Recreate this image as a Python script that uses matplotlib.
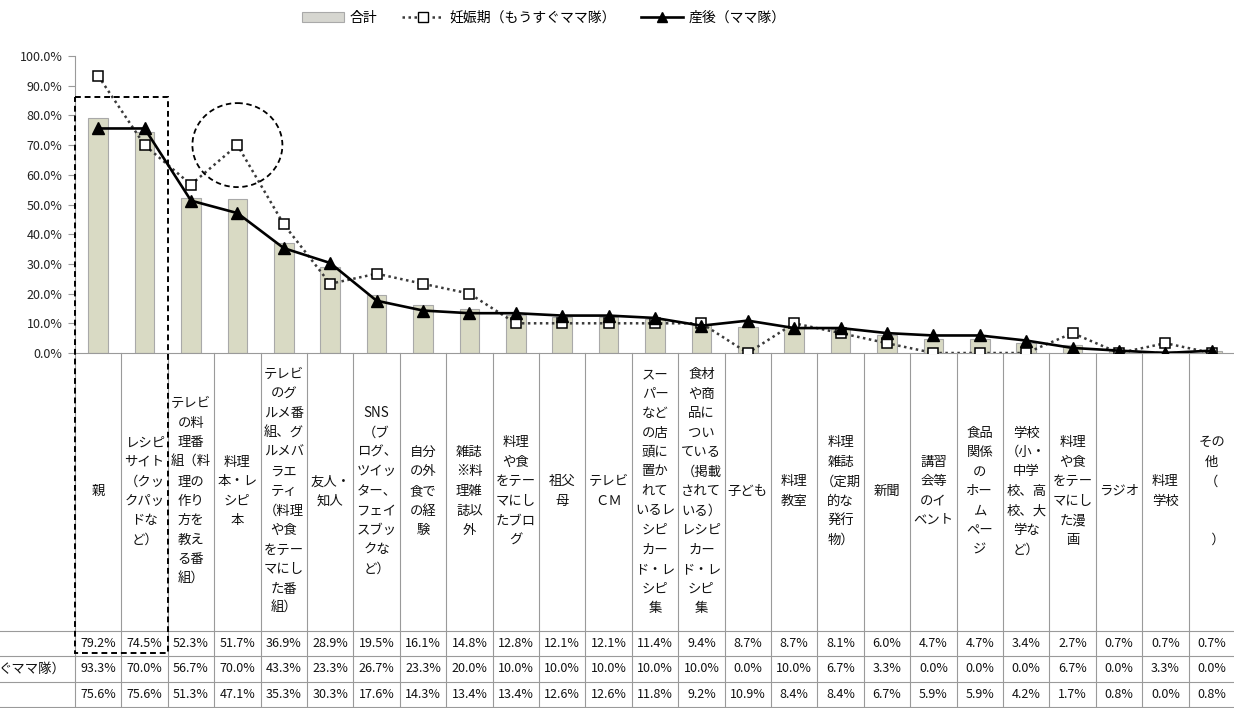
import matplotlib
matplotlib.use("Agg")
import matplotlib.pyplot as plt
from matplotlib.lines import Line2D
from matplotlib.patches import Ellipse, Rectangle, Patch
from matplotlib.transforms import blended_transform_factory

plt.rcParams["font.family"] = ["Noto Sans CJK JP", "DejaVu Sans"]

# category labels, already broken into the narrow column lines
categories = [
    "親",
    "レシピ\nサイト\n（クッ\nクパッ\nドな\nど）",
    "テレビ\nの料\n理番\n組（料\n理の\n作り\n方を\n教え\nる番\n組）",
    "料理\n本・レ\nシピ\n本",
    "テレビ\nのグ\nルメ番\n組、グ\nルメバ\nラエ\nティ\n（料理\nや食\nをテー\nマにし\nた番\n組）",
    "友人・\n知人",
    "SNS\n（ブ\nログ、\nツイッ\nター、\nフェイ\nスブッ\nクな\nど）",
    "自分\nの外\n食で\nの経\n験",
    "雑誌\n※料\n理雑\n誌以\n外",
    "料理\nや食\nをテー\nマにし\nたブロ\nグ",
    "祖父\n母",
    "テレビ\nＣＭ",
    "スー\nパー\nなど\nの店\n頭に\n置か\nれて\nいるレ\nシピ\nカー\nド・レ\nシピ\n集",
    "食材\nや商\n品に\nつい\nている\n（掲載\nされて\nいる）\nレシピ\nカー\nド・レ\nシピ\n集",
    "子ども",
    "料理\n教室",
    "料理\n雑誌\n（定期\n的な\n発行\n物）",
    "新聞",
    "講習\n会等\nのイ\nベント",
    "食品\n関係\nの\nホー\nム\nペー\nジ",
    "学校\n（小・\n中学\n校、高\n校、大\n学な\nど）",
    "料理\nや食\nをテー\nマにし\nた漫\n画",
    "ラジオ",
    "料理\n学校",
    "その\n他\n（\n\n\n　）",
]

series_names = ["合計", "妊娠期（もうすぐママ隊）", "産後（ママ隊）"]
# row headers of the data table as far as they fit left of the grid
row_headers = ["", "ぐママ隊）", ""]

total = [79.2, 74.5, 52.3, 51.7, 36.9, 28.9, 19.5, 16.1, 14.8, 12.8, 12.1, 12.1, 11.4,
         9.4, 8.7, 8.7, 8.1, 6.0, 4.7, 4.7, 3.4, 2.7, 0.7, 0.7, 0.7]
pregnancy = [93.3, 70.0, 56.7, 70.0, 43.3, 23.3, 26.7, 23.3, 20.0, 10.0, 10.0, 10.0, 10.0,
             10.0, 0.0, 10.0, 6.7, 3.3, 0.0, 0.0, 0.0, 6.7, 0.0, 3.3, 0.0]
postpartum = [75.6, 75.6, 51.3, 47.1, 35.3, 30.3, 17.6, 14.3, 13.4, 13.4, 12.6, 12.6, 11.8,
              9.2, 10.9, 8.4, 8.4, 6.7, 5.9, 5.9, 4.2, 1.7, 0.8, 0.0, 0.8]

yticks = [0, 10, 20, 30, 40, 50, 60, 70, 80, 90, 100]

W, H = 1234, 708
BAR_FILL = "#d9dac4"
BAR_EDGE = "#a9a9a9"
GRID = "#9a9a9a"
INK = "#111111"

fig = plt.figure(figsize=(W / 100, H / 100), dpi=100)
fig.patch.set_facecolor("white")

# plot area in pixels: x 75..1235, y(top) 56..353
ax = fig.add_axes([75 / W, (H - 353) / H, 1160 / W, 297 / H])
n = len(categories)
xs = list(range(n))
ax.set_xlim(-0.5, n - 0.5)
ax.set_ylim(0, 100)

ax.bar(xs, total, width=0.42, color=BAR_FILL, edgecolor=BAR_EDGE, linewidth=0.8, zorder=2)
ax.plot(xs, pregnancy, linestyle=(0, (1, 1.4)), color="#3a3a3a", linewidth=1.8,
        marker="s", markersize=7.5, markerfacecolor="white", markeredgecolor="black",
        markeredgewidth=1.1, zorder=3)
ax.plot(xs, postpartum, linestyle="-", color="black", linewidth=1.9,
        marker="^", markersize=8, markerfacecolor="black", markeredgecolor="black",
        zorder=4)

ax.set_yticks(yticks)
ax.set_yticklabels([f"{v:.1f}%" for v in yticks], fontsize=9, color="#222222")
ax.set_xticks([])
ax.tick_params(axis="y", direction="out", length=5, width=0.8, color=GRID, pad=4)
for side in ("top", "right"):
    ax.spines[side].set_visible(False)
ax.spines["left"].set_color(GRID)
ax.spines["bottom"].set_color(GRID)
ax.patch.set_alpha(0)

# overlay in pixel coordinates (y measured from the top) for the data table
over = fig.add_axes([0, 0, 1, 1], zorder=5)
over.set_xlim(0, W)
over.set_ylim(H, 0)
over.axis("off")
over.patch.set_alpha(0)
colx = blended_transform_factory(ax.transData, over.transData)

table_top = 353
row_lines = [631, 656, 682, 707]
for y in row_lines:
    over.plot([0, W], [y, y], color=GRID, linewidth=0.8, zorder=1)
for i in range(n + 1):
    over.plot([i - 0.5, i - 0.5], [table_top, H], color=GRID, linewidth=0.8,
              transform=colx, zorder=1)

for i, label in enumerate(categories):
    over.text(i, 491, label, transform=colx, ha="center", va="center",
              multialignment="center", fontsize=9.6, linespacing=1.5, color=INK)

rows = [total, pregnancy, postpartum]
for r, vals in enumerate(rows):
    yc = (row_lines[r] + row_lines[r + 1]) / 2
    over.text(66, yc, row_headers[r], ha="right", va="center", fontsize=9.6, color=INK)
    for i, v in enumerate(vals):
        over.text(i, yc, f"{v:.1f}%", transform=colx, ha="center", va="center",
                  fontsize=9, color=INK)

# dashed frame round the two leading items and circle on the outlier
over.add_patch(Rectangle((-0.5, 97), 2, 556, transform=colx, fill=False,
                         edgecolor="black", linewidth=1.4, linestyle=(0, (3, 2)),
                         zorder=6))
cx, cy = ax.transData.transform((3, pregnancy[3]))
over.add_patch(Ellipse((cx, H - cy), 90, 84, fill=False, edgecolor="black",
                       linewidth=1.3, linestyle=(0, (3, 2)), zorder=6))

handles = [
    Patch(facecolor="#d6d6d0", edgecolor=BAR_EDGE, linewidth=0.8),
    Line2D([], [], linestyle=(0, (1, 1.4)), color="#3a3a3a", linewidth=1.8,
           marker="s", markersize=7, markerfacecolor="white", markeredgecolor="black"),
    Line2D([], [], color="black", linewidth=1.9, marker="^", markersize=7,
           markerfacecolor="black"),
]
fig.legend(handles, series_names, loc="center", bbox_to_anchor=(544 / W, 1 - 18 / H),
           ncol=3, frameon=False, fontsize=10, handlelength=3.0, handleheight=0.7,
           columnspacing=1.8, handletextpad=0.4)

fig.savefig("out.png", dpi=100, facecolor="white")
